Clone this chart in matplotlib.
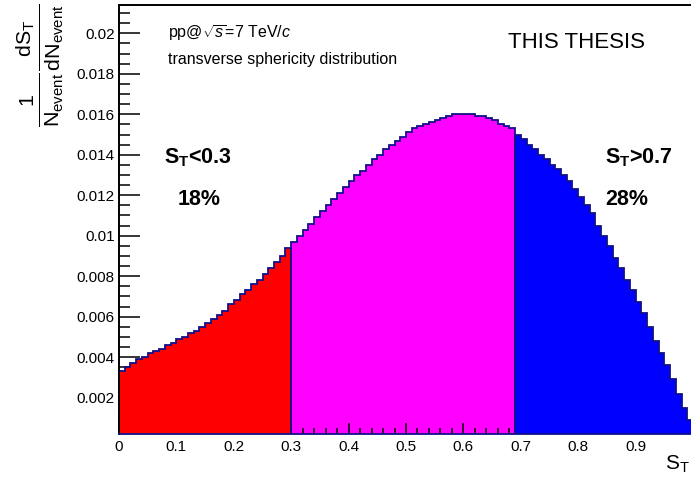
import numpy as np
import matplotlib
matplotlib.use("Agg")
import matplotlib.pyplot as plt
from matplotlib.ticker import MultipleLocator, FuncFormatter

plt.rcParams['font.family'] = ['Liberation Sans', 'DejaVu Sans']
plt.rcParams['mathtext.fontset'] = 'custom'
plt.rcParams['mathtext.rm'] = 'Liberation Sans'
plt.rcParams['mathtext.it'] = 'Liberation Sans:italic'
plt.rcParams['mathtext.bf'] = 'Liberation Sans:bold'

# ---- data: transverse sphericity distribution, 100 bins in [0, 1] ----
red_values = [0.0033, 0.0035, 0.0037, 0.0039, 0.0040, 0.0042, 0.0043, 0.0044, 0.0046, 0.0047,
              0.0049, 0.0050, 0.0052, 0.0053, 0.0055, 0.0057, 0.0059, 0.0061, 0.0063, 0.0066,
              0.0068, 0.0071, 0.0073, 0.0076, 0.0078, 0.0081, 0.0084, 0.0087, 0.0090, 0.0094]
magenta_values = [0.0097, 0.0100, 0.0103, 0.0106, 0.0109, 0.0112, 0.0115, 0.0118, 0.0121, 0.0124,
                  0.0127, 0.0130, 0.0132, 0.0135, 0.0138, 0.0140, 0.0143, 0.0145, 0.0147, 0.0149,
                  0.0151, 0.0153, 0.0154, 0.0155, 0.0156, 0.0157, 0.0158, 0.0159, 0.0160, 0.0160,
                  0.0160, 0.0160, 0.0159, 0.0159, 0.0158, 0.0157, 0.0155, 0.0154, 0.0153]
blue_values = [0.0150, 0.0148, 0.0145, 0.0143, 0.0140, 0.0138, 0.0135, 0.0133, 0.0130, 0.0127,
               0.0123, 0.0119, 0.0115, 0.0111, 0.0105, 0.0100, 0.0095, 0.0089, 0.0084, 0.0078,
               0.0073, 0.0067, 0.0062, 0.0055, 0.0048, 0.0042, 0.0036, 0.0029, 0.0022, 0.0015,
               0.0009]
region_bounds = [0.0, 0.30, 0.69, 1.0]
region_colors = ['#ff0000', '#ff00ff', '#0000ff']
region_zorder = [2.0, 1.0, 2.0]
y_ticks = [0.002, 0.004, 0.006, 0.008, 0.01, 0.012, 0.014, 0.016, 0.018, 0.02]
x_ticks = [0, 0.1, 0.2, 0.3, 0.4, 0.5, 0.6, 0.7, 0.8, 0.9]
label_low = ('$\\mathbf{S}_\\mathbf{T}$<0.3', '18%')
label_high = ('$\\mathbf{S}_\\mathbf{T}$>0.7', '28%')

W, H = 691, 483
fig = plt.figure(figsize=(W / 100, H / 100), dpi=100)
ax = fig.add_axes([119 / W, 1 - 434 / H, (693 - 119) / W, (434 - 5) / H])

series = [red_values, magenta_values, blue_values]
for i, vals in enumerate(series):
    lo, hi = region_bounds[i], region_bounds[i + 1]
    edges = np.linspace(lo, hi, len(vals) + 1)
    ax.stairs(vals, edges, baseline=0, fill=True, color=region_colors[i],
              linewidth=0, zorder=region_zorder[i])
    ax.stairs(vals, edges, baseline=0, fill=False, color='#10108a',
              linewidth=1.3, zorder=region_zorder[i] + 0.1)

ax.set_xlim(0, 1)
ax.set_ylim(0.0002, 0.0214)

ax.xaxis.set_zorder(1.5)
ax.yaxis.set_zorder(1.5)

ax.set_yticks(y_ticks)
ax.yaxis.set_minor_locator(MultipleLocator(0.0005))
ax.yaxis.set_major_formatter(FuncFormatter(lambda v, p: '%g' % v))
ax.set_xticks(x_ticks)
ax.xaxis.set_minor_locator(MultipleLocator(0.02))
ax.xaxis.set_major_formatter(FuncFormatter(lambda v, p: '%g' % v))

ax.tick_params(axis='y', which='major', direction='in', length=15, width=1.1,
               labelsize=11, pad=3, color='black')
ax.tick_params(axis='y', which='minor', direction='in', length=8, width=1.1)
ax.tick_params(axis='x', which='major', direction='in', length=7.7, width=1.1,
               labelsize=11, pad=4)
ax.tick_params(axis='x', which='minor', direction='in', length=4.1, width=1.1)

for s in ['left', 'top']:
    ax.spines[s].set_linewidth(1.4)
    ax.spines[s].set_color('black')
    ax.spines[s].set_zorder(3)
ax.spines['right'].set_visible(False)
ax.spines['bottom'].set_color('#10108a')
ax.spines['bottom'].set_linewidth(1.3)
ax.spines['bottom'].set_zorder(3)

def fx(px):
    return px / W

def fy(py):
    return 1 - py / H

fig.text(fx(168), fy(38), 'pp@$\\sqrt{s}$=7 TeV/$c$', fontsize=11.5, va='baseline', ha='left')
fig.text(fx(168), fy(64), 'transverse sphericity distribution', fontsize=11.5,
         va='baseline', ha='left')
fig.text(fx(508), fy(48), 'THIS THESIS', fontsize=16, va='baseline', ha='left')

fig.text(fx(164), fy(163), label_low[0], fontsize=15.5, fontweight='bold',
         va='baseline', ha='left')
fig.text(fx(178), fy(205), label_low[1], fontsize=15.5, fontweight='bold',
         va='baseline', ha='left')
fig.text(fx(605), fy(163), label_high[0], fontsize=15.5, fontweight='bold',
         va='baseline', ha='left')
fig.text(fx(605), fy(205), label_high[1], fontsize=15.5, fontweight='bold',
         va='baseline', ha='left')

fig.text(fx(40), fy(4),
         '$\\frac{\\mathrm{1}}{\\mathrm{N_{event}}}\\frac{\\mathrm{dS_{T}}}{\\mathrm{dN_{event}}}$',
         rotation=90, fontsize=22, ha='center', va='top')
fig.text(fx(690), fy(470), '$\\mathrm{S_{T}}$', fontsize=15, ha='right', va='baseline')

fig.savefig('out.png', dpi=100)
